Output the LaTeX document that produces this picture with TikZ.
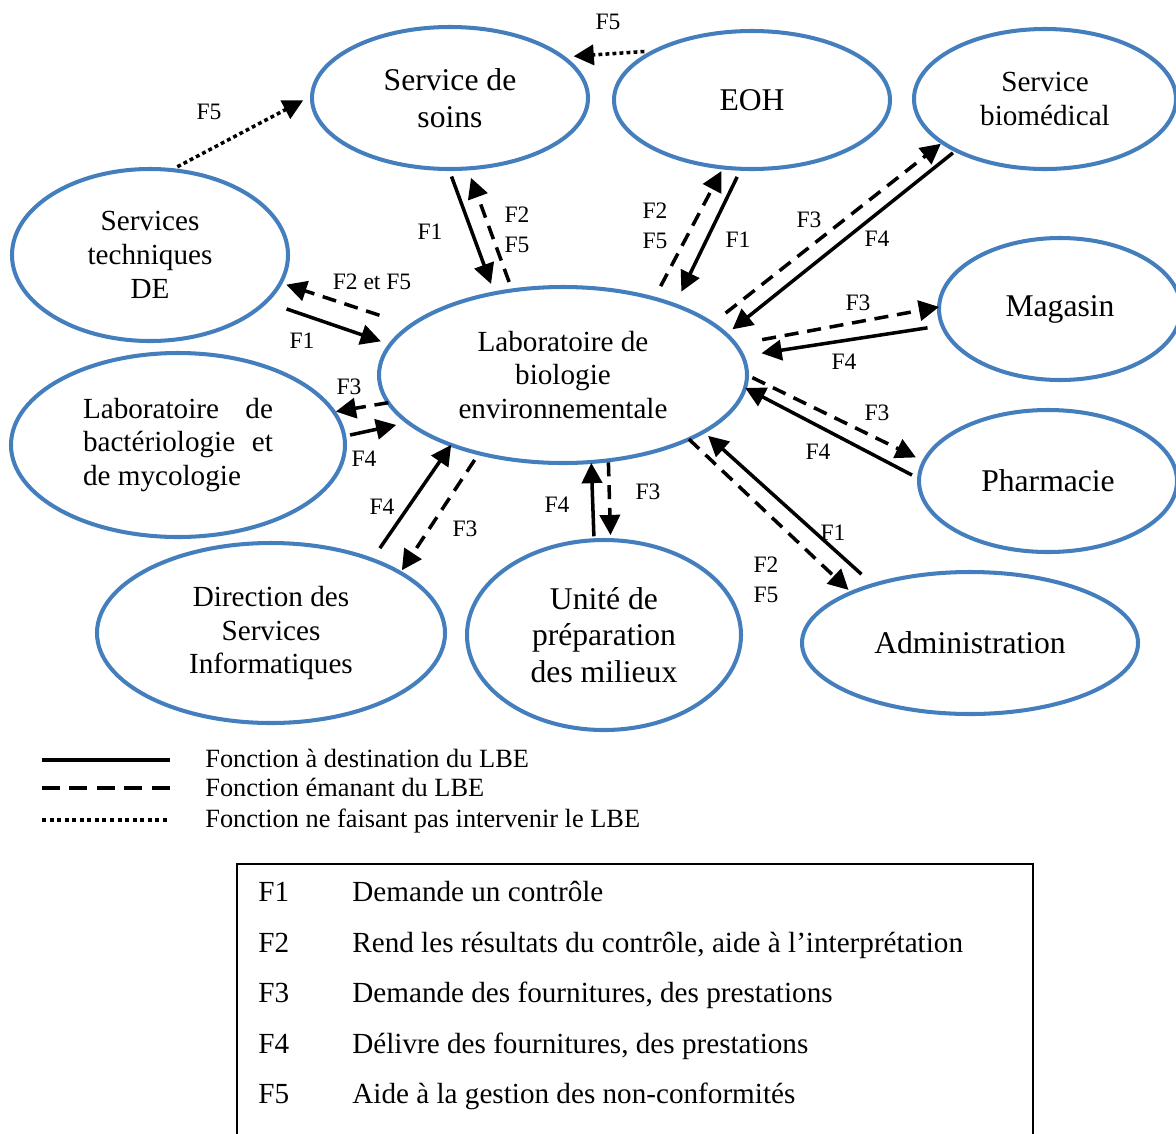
\documentclass[tikz,border=0pt]{standalone}
\usepackage{fontspec}
\setmainfont{Liberation Serif}
\usetikzlibrary{arrows.meta, shapes.geometric}
\newlength\upx
\setlength\upx{0.02cm}
\definecolor{ovalblue}{RGB}{68,126,189}

\begin{document}
\begin{tikzpicture}[x=0.02cm, y=-0.02cm,
    oval/.style={ellipse, draw=ovalblue, line width=2.3pt, inner sep=0pt,
      outer sep=0pt, align=center},
    big/.style={font=\fontsize{18}{20.8}\selectfont},
    mid/.style={font=\fontsize{16.6}{19.2}\selectfont},
    flab/.style={font=\fontsize{13.4}{16}\selectfont, inner sep=0pt, align=center},
    tolbe/.style={line width=2pt, -{Triangle[length=11.5pt, width=11.5pt]}},
    fromlbe/.style={tolbe, dash pattern=on 8pt off 5pt},
    nolbe/.style={tolbe, dash pattern=on 2.2pt off 1.8pt}]
  \useasboundingbox (0, 0) rectangle (1176, 1133);
  % Draw services
  \node [oval, big, minimum width=276\upx, minimum height=142\upx] (soins) at (450, 98) {Service de\\soins};
  \node [oval, big, minimum width=276\upx, minimum height=138\upx] (eoh) at (752, 100) {EOH};
  \node [oval, mid, minimum width=262\upx, minimum height=140\upx] (biomed) at (1045, 99) {Service\\biomédical};
  \node [oval, mid, minimum width=276\upx, minimum height=172\upx] (techn) at (150, 255) {Services\\techniques\\DE};
  \node [oval, big, minimum width=242\upx, minimum height=142\upx] (magasin) at (1060, 309) {Magasin};
  \node [oval, mid, minimum width=368\upx, minimum height=176\upx] (lbe) at (563, 375) {Laboratoire de\\biologie\\environnementale};
  \node [oval, mid, minimum width=334\upx, minimum height=184\upx, text width=190\upx, align=flush left] (bact) at (178, 445)
    {Laboratoire\hfill de\\bactériologie\hfill et\\de mycologie};
  \node [oval, big, minimum width=258\upx, minimum height=142\upx] (pharma) at (1048, 481) {Pharmacie};
  \node [oval, mid, minimum width=348\upx, minimum height=180\upx] (dsi) at (271, 633) {Direction des\\Services\\Informatiques};
  \node [oval, big, minimum width=274\upx, minimum height=190\upx] (unite) at (604, 635) {Unité de\\préparation\\des milieux};
  \node [oval, big, minimum width=336\upx, minimum height=142\upx] (admin) at (970, 643) {Administration};
  % Functions not involving the LBE
  \draw [nolbe, shorten <=7\upx, shorten >=10\upx] (techn.76.6) -- (soins.179.6);
  \draw [nolbe, shorten <=11\upx, shorten >=11\upx] (eoh.153.2) -- (soins.20.7);
  % Service de soins and EOH
  \draw [tolbe, shorten <=8\upx, shorten >=10\upx] (soins.269.3) -- (lbe.130.9);
  \draw [fromlbe, shorten <=9\upx, shorten >=10\upx] (lbe.121.3) -- (soins.284);
  \draw [fromlbe, shorten <=14\upx, shorten >=4\upx] (lbe.40.7) -- (eoh.247.1);
  \draw [tolbe, shorten <=9\upx, shorten >=15\upx] (eoh.261.3) -- (lbe.32);
  % Right hand side
  \draw [fromlbe, shorten <=17\upx, shorten >=2\upx] (lbe.19.5) -- (biomed.203.4);
  \draw [tolbe, shorten <=4\upx, shorten >=8\upx] (biomed.210.7) -- (lbe.14.2);
  \draw [fromlbe, shorten <=27\upx] (lbe.10) -- (magasin.179);
  \draw [tolbe, shorten <=15\upx, shorten >=19\upx] (magasin.188.2) -- (lbe.6);
  \draw [fromlbe, shorten <=6\upx, shorten >=9\upx] (lbe.0.9) -- (pharma.171.4);
  \draw [tolbe, shorten <=8\upx] (pharma.179.6) -- (lbe.356.6);
  \draw [fromlbe, shorten >=4\upx] (lbe.333.6) -- (admin.157.8);
  \draw [tolbe, shorten <=16\upx, shorten >=6\upx] (admin.149.5) -- (lbe.338);
  % Bottom
  \draw [tolbe, shorten <=4\upx, shorten >=1\upx] (unite.96.4) -- (lbe.288.8);
  \draw [fromlbe, shorten <=2\upx, shorten >=5\upx] (lbe.298.9) -- (unite.86);
  \draw [tolbe, shorten <=14\upx] (dsi.36.2) -- (lbe.212.9);
  \draw [fromlbe, shorten <=8\upx, shorten >=3\upx] (lbe.223.3) -- (dsi.25.3);
  % Left hand side
  \draw [fromlbe, shorten >=2\upx] (lbe.189.1) -- (bact.12.7);
  \draw [tolbe, shorten <=6\upx, shorten >=12\upx] (bact.3.3) -- (lbe.197.9);
  \draw [fromlbe, shorten <=33\upx, shorten >=6\upx] (lbe.162.6) -- (techn.348.9);
  \draw [tolbe, shorten <=22\upx, shorten >=10\upx] (techn.338) -- (lbe.170.7);
  % Add function labels
  \node [flab] (f5-ts) at (209, 112) {F5};
  \node [flab] (f5-eoh) at (608, 22) {F5};
  \node [flab] (f1-soins) at (430, 232) {F1};
  \node [flab] (f25-soins) at (517, 230) {F2\\[1pt]F5};
  \node [flab] (f25-eoh) at (655, 226) {F2\\[1pt]F5};
  \node [flab] (f1-eoh) at (738, 240) {F1};
  \node [flab] (f3-bio) at (809, 220) {F3};
  \node [flab] (f4-bio) at (877, 239) {F4};
  \node [flab] (f3-mag) at (858, 303) {F3};
  \node [flab] (f4-mag) at (844, 362) {F4};
  \node [flab] (f3-pha) at (877, 413) {F3};
  \node [flab] (f4-pha) at (818, 452) {F4};
  \node [flab] (f1-adm) at (833, 533) {F1};
  \node [flab] (f25-adm) at (766, 580) {F2\\[1pt]F5};
  \node [flab] (f4-umi) at (557, 505) {F4};
  \node [flab] (f3-umi) at (648, 492) {F3};
  \node [flab] (f4-dsi) at (382, 507) {F4};
  \node [flab] (f3-dsi) at (465, 529) {F3};
  \node [flab] (f3-bac) at (349, 387) {F3};
  \node [flab] (f4-bac) at (364, 459) {F4};
  \node [flab] (f25-ts) at (372, 282) {F2 et F5};
  \node [flab] (f1-ts) at (302, 341) {F1};
  % Legend
  \draw [line width=2.3pt] (42, 760) -- (170, 760);
  \draw [line width=2.3pt, dash pattern=on 10.2pt off 5.4pt] (42, 788) -- (170, 788);
  \draw [line width=2.3pt, dash pattern=on 2.3pt off 2pt] (42, 820) -- (170, 820);
  \node [font=\fontsize{15}{18}\selectfont, anchor=base west, inner sep=0pt] (leg1) at (205, 767) {Fonction à destination du LBE};
  \node [font=\fontsize{15}{18}\selectfont, anchor=base west, inner sep=0pt] (leg2) at (205, 796) {Fonction émanant du LBE};
  \node [font=\fontsize{15}{18}\selectfont, anchor=base west, inner sep=0pt] (leg3) at (205, 827) {Fonction ne faisant pas intervenir le LBE};
  % Table of functions
  \draw [line width=0.85pt] (237, 864) rectangle (1033, 1150);
  \foreach \f/\yy/\txt in {F1/901/Demande un contrôle,
      F2/952/{Rend les résultats du contrôle, aide à l’interprétation},
      F3/1002/{Demande des fournitures, des prestations},
      F4/1053/{Délivre des fournitures, des prestations},
      F5/1103/Aide à la gestion des non-conformités} {
    \node [mid, anchor=base west, inner sep=0pt] (tab-\f) at (258, \yy) {\f};
    \node [mid, anchor=base west, inner sep=0pt] (txt-\f) at (352, \yy) {\txt};
  }
\end{tikzpicture}
\end{document}
